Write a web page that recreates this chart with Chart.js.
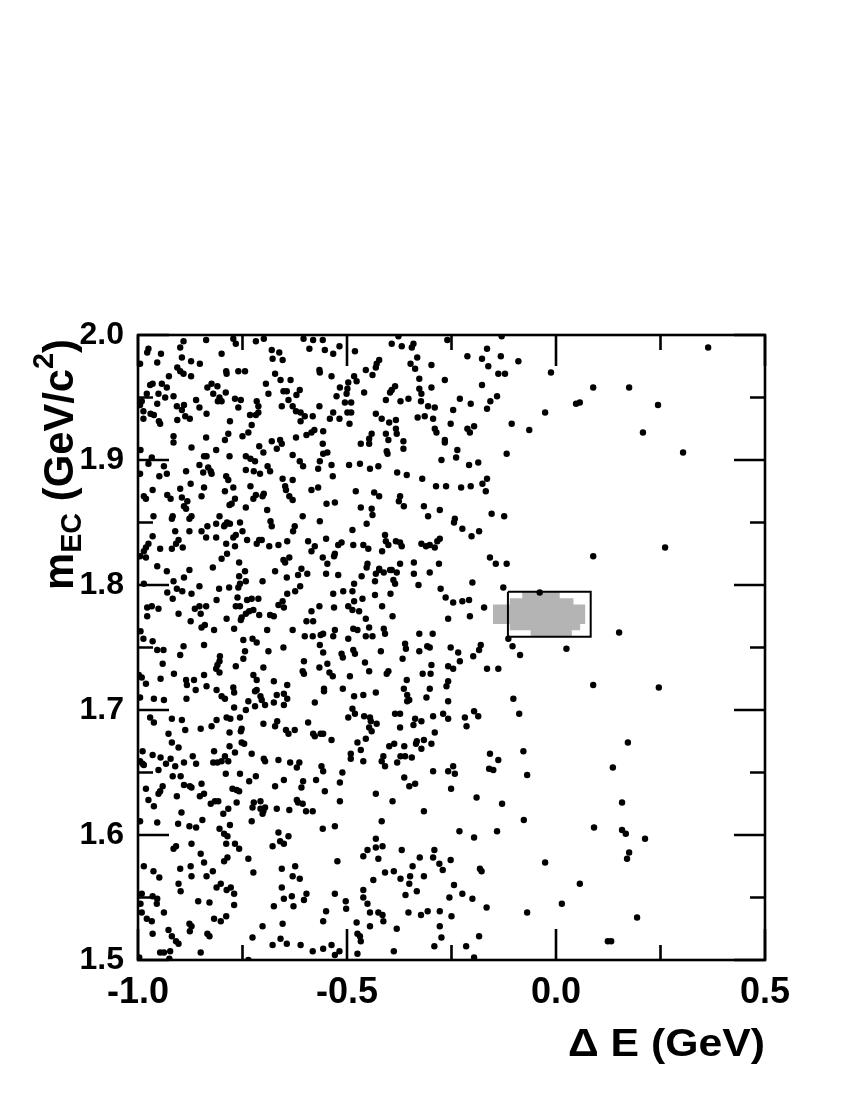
<!DOCTYPE html>
<html>
<head>
<meta charset="utf-8">
<title>m_EC vs Delta E</title>
<script src="https://cdn.jsdelivr.net/npm/chart.js@4.4.0/dist/chart.umd.min.js"></script>
<style>
    html, body { margin: 0; padding: 0; background: #ffffff; }
    #plot { display: block; }
</style>
</head>
<body>
<canvas id="plot" width="850" height="1100"></canvas>
<script>
// ---- data: Delta E (GeV) and m_EC (GeV/c^2) of each event ----
const deltaE = [
    // m_EC 1.91 - 2.00, Delta E < -0.55
    -0.891,-0.899,-0.837,-0.772,-0.766,-0.718,-0.699,-0.604,-0.590,-0.581,
    -0.558,-0.553,-0.975,-0.978,-0.945,-0.895,-0.873,-0.852,-0.800,-0.680,
    -0.662,-0.678,-0.654,-0.995,-0.954,-0.906,-0.899,-0.891,-0.873,-0.789,
    -0.788,-0.760,-0.744,-0.672,-0.566,-0.565,-0.926,-0.943,-0.965,-0.971,
    -0.694,-0.659,-0.635,-0.652,-0.644,-0.688,-0.613,-0.621,-0.931,-0.979,
    -0.951,-0.935,-0.915,-0.954,-0.991,-0.995,-0.824,-0.834,-0.810,-0.820,
    -0.790,-0.805,-0.800,-0.809,-0.768,-0.754,-0.716,-0.712,-0.861,-0.656,
    -0.640,-0.630,-0.566,-0.907,-0.890,-0.895,-0.853,-0.836,-0.760,-0.987,
    -0.970,-0.962,-0.987,-0.887,-0.876,-0.906,-0.950,-0.947,-0.780,-0.732,
    -0.718,-0.712,-0.622,-0.611,-0.601,-0.611,-0.582,-0.728,-0.736,-0.784,
    -0.792,-0.750,-0.915,-0.915,-0.872,-0.837,-0.813,-0.710,-0.680,-0.660,
    -0.656,-0.622,-0.585,-0.597,-0.578,-0.557,-0.558,-0.994,
    // m_EC 1.91 - 2.00, Delta E > -0.55
    -0.533,-0.518,-0.481,-0.377,-0.393,-0.369,-0.341,-0.345,-0.260,-0.130,
    -0.165,-0.212,-0.177,-0.132,-0.090,-0.162,-0.332,-0.348,-0.337,-0.298,
    -0.423,-0.429,-0.431,-0.455,-0.439,-0.483,-0.537,-0.477,-0.497,-0.517,
    -0.499,-0.501,-0.525,-0.505,-0.490,-0.499,-0.490,-0.533,-0.541,-0.518,
    -0.494,-0.138,-0.122,-0.177,-0.266,-0.327,-0.298,-0.327,-0.322,-0.323,
    -0.385,-0.393,-0.397,-0.459,-0.407,-0.372,-0.353,-0.306,-0.290,-0.230,
    -0.204,-0.141,-0.157,-0.165,-0.246,-0.431,-0.417,-0.399,-0.383,-0.331,
    -0.314,-0.294,-0.383,-0.381,-0.290,-0.286,-0.252,-0.212,-0.196,-0.206,
    -0.106,-0.064,-0.441,-0.447,-0.447,-0.407,-0.401,-0.467,-0.365,-0.365,
    -0.405,-0.266,-0.266,-0.236,-0.547,-0.118,
    // m_EC 1.81 - 1.91, Delta E < -0.55
    -0.700,-0.668,-0.967,-0.975,-0.938,-0.995,-0.949,-0.931,-0.885,-0.874,
    -0.842,-0.836,-0.853,-0.844,-0.832,-0.826,-0.824,-0.781,-0.789,-0.784,
    -0.742,-0.731,-0.720,-0.742,-0.723,-0.708,-0.690,-0.684,-0.630,-0.613,
    -0.605,-0.565,-0.569,-0.654,-0.630,-0.557,-0.899,-0.930,-0.922,-0.895,
    -0.882,-0.890,-0.885,-0.986,-0.981,-0.965,-0.842,-0.848,-0.792,-0.772,
    -0.768,-0.776,-0.781,-0.731,-0.718,-0.724,-0.702,-0.699,-0.648,-0.646,
    -0.638,-0.630,-0.585,-0.569,-0.742,-0.691,-0.963,-0.917,-0.919,-0.877,
    -0.872,-0.805,-0.834,-0.848,-0.837,-0.813,-0.792,-0.787,-0.780,-0.794,
    -0.756,-0.750,-0.683,-0.680,-0.606,-0.625,-0.629,-0.565,-0.965,-0.975,
    -0.981,-0.986,-0.911,-0.877,-0.903,-0.909,-0.919,-0.893,-0.947,-0.813,
    -0.789,-0.772,-0.766,-0.768,-0.739,-0.716,-0.710,-0.704,-0.643,-0.664,
    -0.686,-0.593,-0.577,-0.585,-0.995,-0.981,-0.800,-0.787,-0.758,-0.652,
    -0.648,-0.638,-0.558,-0.954,-0.931,-0.877,-0.821,-0.744,-0.672,-0.609,
    // m_EC 1.81 - 1.91, Delta E > -0.55
    -0.403,-0.239,-0.274,-0.208,-0.186,-0.537,-0.534,-0.495,-0.469,-0.445,
    -0.425,-0.380,-0.357,-0.320,-0.287,-0.263,-0.227,-0.204,-0.176,-0.165,
    -0.168,-0.479,-0.435,-0.423,-0.373,-0.376,-0.364,-0.316,-0.278,-0.306,
    -0.549,-0.529,-0.467,-0.441,-0.439,-0.453,-0.487,-0.242,-0.244,-0.224,
    -0.202,-0.184,-0.154,-0.124,-0.409,-0.407,-0.401,-0.383,-0.373,-0.369,
    -0.416,-0.461,-0.449,-0.485,-0.521,-0.513,-0.550,-0.529,-0.531,-0.547,
    -0.451,-0.453,-0.423,-0.397,-0.373,-0.340,-0.322,-0.311,-0.302,-0.290,
    -0.284,-0.278,-0.280,-0.158,-0.144,-0.118,
    // m_EC 1.72 - 1.81, Delta E < -0.55
    -0.758,-0.742,-0.644,-0.617,-0.595,-0.986,-0.915,-0.890,-0.853,-0.806,
    -0.782,-0.760,-0.756,-0.702,-0.930,-0.917,-0.907,-0.894,-0.872,-0.812,
    -0.762,-0.739,-0.728,-0.712,-0.643,-0.624,-0.612,-0.654,-0.664,-0.651,
    -0.978,-0.967,-0.951,-0.978,-0.864,-0.853,-0.837,-0.850,-0.903,-0.766,
    -0.756,-0.734,-0.724,-0.742,-0.752,-0.754,-0.710,-0.684,-0.675,-0.585,
    -0.566,-0.874,-0.848,-0.840,-0.818,-0.788,-0.770,-0.691,-0.630,-0.597,
    -0.581,-0.601,-0.582,-0.563,-0.557,-0.994,-0.987,-0.965,-0.954,-0.939,
    -0.891,-0.899,-0.842,-0.748,-0.726,-0.716,-0.744,-0.748,-0.804,-0.805,
    -0.810,-0.813,-0.805,-0.766,-0.688,-0.652,-0.565,-0.557,-0.603,-0.606,
    -0.603,-0.566,-0.941,-0.914,-0.998,-0.991,-0.981,-0.946,-0.885,-0.883,
    -0.866,-0.842,-0.836,-0.812,-0.724,-0.716,-0.700,-0.675,-0.643,-0.716,
    // m_EC 1.72 - 1.81, Delta E > -0.55
    -0.550,-0.521,-0.465,-0.431,-0.423,-0.412,-0.393,-0.381,-0.340,-0.302,
    -0.200,-0.126,-0.039,-0.433,-0.389,-0.385,-0.329,-0.483,-0.276,-0.533,
    -0.509,-0.487,-0.433,-0.396,-0.264,-0.246,-0.224,-0.208,-0.483,-0.463,
    -0.531,-0.497,-0.487,-0.471,-0.416,-0.172,-0.206,-0.258,-0.391,-0.455,
    -0.447,-0.485,-0.475,-0.529,-0.412,-0.409,-0.455,-0.439,-0.497,-0.533,
    -0.327,-0.295,-0.114,-0.361,-0.359,-0.308,-0.302,-0.252,-0.180,-0.184,
    -0.104,-0.086,0.025,-0.419,-0.485,-0.481,-0.513,-0.510,-0.327,-0.234,
    -0.198,-0.367,-0.230,-0.547,-0.457,-0.298,-0.258,-0.246,-0.165,-0.138,
    -0.447,-0.401,-0.405,-0.542,-0.534,-0.493,-0.319,-0.300,-0.357,-0.258,
    -0.262,-0.510,-0.555,-0.364,-0.302,0.089,
    // m_EC 1.61 - 1.72, Delta E < -0.55
    -0.995,-0.962,-0.938,-0.884,-0.862,-0.770,-0.772,-0.800,-0.792,-0.770,
    -0.736,-0.742,-0.720,-0.720,-0.707,-0.704,-0.696,-0.675,-0.668,-0.651,
    -0.643,-0.651,-0.555,-0.577,-0.971,-0.962,-0.919,-0.895,-0.887,-0.850,
    -0.824,-0.812,-0.788,-0.779,-0.756,-0.752,-0.754,-0.781,-0.700,-0.667,
    -0.672,-0.646,-0.640,-0.625,-0.593,-0.581,-0.577,-0.563,-0.557,-0.927,
    -0.919,-0.903,-0.752,-0.746,-0.781,-0.768,-0.989,-0.965,-0.946,-0.989,
    -0.986,-0.995,-0.933,-0.922,-0.911,-0.890,-0.869,-0.861,-0.818,-0.820,
    -0.810,-0.800,-0.792,-0.784,-0.728,-0.699,-0.696,-0.664,-0.636,-0.614,
    -0.620,-0.561,-0.557,-0.951,-0.917,-0.898,-0.790,-0.756,-0.718,-0.734,
    -0.651,-0.672,-0.605,-0.609,-0.574,-0.553,-0.981,-0.941,-0.947,-0.951,
    -0.890,-0.876,-0.872,-0.848,-0.907,-0.852,-0.842,-0.774,-0.764,-0.758,
    -0.975,-0.962,-0.826,-0.816,-0.808,-0.796,-0.784,-0.764,-0.723,-0.726,
    -0.707,-0.707,-0.700,-0.696,-0.702,-0.668,-0.638,-0.620,-0.617,-0.606,
    -0.598,-0.582,-0.896,-0.846,
    // m_EC 1.61 - 1.72, Delta E > -0.55
    -0.483,-0.461,-0.431,-0.356,-0.351,-0.356,-0.310,-0.258,-0.102,-0.088,
    -0.487,-0.481,-0.497,-0.459,-0.445,-0.443,-0.447,-0.441,-0.429,-0.385,
    -0.373,-0.373,-0.337,-0.341,-0.322,-0.294,-0.270,-0.258,-0.290,-0.218,
    -0.196,-0.186,-0.214,-0.537,-0.475,-0.455,-0.467,-0.461,-0.491,-0.491,
    -0.417,-0.413,-0.409,-0.399,-0.387,-0.363,-0.333,-0.335,-0.316,-0.322,
    -0.298,-0.372,-0.361,-0.345,-0.380,-0.511,-0.517,-0.517,-0.431,-0.391,
    -0.363,-0.337,-0.351,-0.294,-0.258,-0.246,-0.242,-0.251,-0.158,-0.138,
    -0.160,-0.150,-0.078,-0.069,-0.190,-0.129,-0.316,
    // m_EC 1.50 - 1.61, Delta E < -0.55
    -0.995,-0.954,-0.904,-0.877,-0.861,-0.805,-0.794,-0.786,-0.780,-0.728,
    -0.872,-0.909,-0.915,-0.789,-0.768,-0.758,-0.850,-0.842,-0.786,-0.794,
    -0.736,-0.664,-0.640,-0.660,-0.651,-0.678,-0.558,-0.986,-0.963,-0.949,
    -0.899,-0.874,-0.872,-0.836,-0.821,-0.724,-0.656,-0.624,-0.630,-0.613,
    -0.903,-0.898,-0.802,-0.812,-0.788,-0.778,-0.770,-0.656,-0.651,-0.632,
    -0.597,-0.603,-0.628,-0.991,-0.994,-0.965,-0.954,-0.955,-0.938,-0.991,
    -0.979,-0.967,-0.856,-0.829,-0.770,-0.675,-0.557,-0.818,-0.802,-0.789,
    -0.877,-0.872,-0.876,-0.654,-0.702,-0.965,-0.927,-0.919,-0.909,-0.903,
    -0.834,-0.829,-0.726,-0.659,-0.644,-0.678,-0.611,-0.582,-0.557,-0.947,
    -0.938,-0.923,-0.925,-0.850,-0.997,-0.736,
    // m_EC 1.50 - 1.61, Delta E > -0.55
    -0.529,-0.417,-0.077,-0.231,-0.141,-0.196,-0.431,-0.451,-0.431,-0.415,
    -0.461,-0.425,-0.523,-0.369,-0.326,-0.291,-0.294,-0.279,-0.271,-0.252,
    -0.182,-0.178,-0.409,-0.388,-0.343,-0.349,-0.316,-0.372,-0.351,-0.437,
    -0.244,-0.461,-0.461,-0.529,-0.333,-0.360,-0.224,-0.255,-0.200,-0.166,
    -0.069,-0.503,-0.502,-0.550,-0.451,-0.445,-0.425,-0.415,-0.413,-0.353,
    -0.323,-0.307,-0.278,-0.250,-0.278,-0.274,-0.477,-0.445,-0.381,-0.475,
    -0.469,-0.467,-0.184,-0.291,-0.215,-0.537,-0.529,-0.518,-0.475,-0.388,
    -0.196,
    // sparse events at Delta E > -0.05
    -0.012,0.048,0.057,0.089,0.175,0.244,0.364,0.208,0.304,-0.026,
    0.089,0.261,0.246,0.172,0.136,0.151,0.091,0.158,0.158,0.167,
    0.175,0.170,0.213,0.057,-0.026,0.014,0.194,0.132,0.124
];

const mEC = [
    1.995,1.990,1.996,1.997,1.993,1.995,1.997,1.997,1.989,1.996,
    1.996,1.988,1.989,1.986,1.985,1.982,1.979,1.977,1.985,1.988,
    1.986,1.981,1.980,1.977,1.978,1.974,1.971,1.969,1.967,1.971,
    1.969,1.971,1.971,1.969,1.972,1.970,1.967,1.961,1.961,1.960,
    1.961,1.964,1.964,1.955,1.955,1.953,1.956,1.952,1.958,1.953,
    1.953,1.950,1.951,1.945,1.947,1.944,1.961,1.958,1.959,1.953,
    1.954,1.950,1.947,1.947,1.949,1.948,1.947,1.943,1.948,1.943,
    1.948,1.943,1.943,1.943,1.944,1.940,1.942,1.937,1.942,1.939,
    1.937,1.936,1.933,1.935,1.933,1.932,1.931,1.929,1.931,1.936,
    1.936,1.938,1.939,1.938,1.935,1.931,1.935,1.928,1.922,1.921,
    1.916,1.919,1.919,1.914,1.910,1.918,1.908,1.911,1.915,1.916,
    1.913,1.918,1.922,1.920,1.924,1.923,1.913,1.908,

    1.985,1.991,1.987,1.999,1.993,1.991,1.993,1.990,1.996,1.999,
    1.989,1.983,1.981,1.983,1.979,1.975,1.982,1.977,1.973,1.976,
    1.980,1.977,1.974,1.972,1.968,1.967,1.967,1.963,1.962,1.958,
    1.957,1.953,1.951,1.946,1.946,1.938,1.938,1.938,1.933,1.933,
    1.929,1.969,1.969,1.960,1.964,1.965,1.958,1.957,1.953,1.947,
    1.959,1.956,1.954,1.954,1.948,1.947,1.949,1.943,1.942,1.949,
    1.945,1.951,1.947,1.941,1.940,1.937,1.933,1.930,1.932,1.934,
    1.935,1.933,1.925,1.921,1.925,1.922,1.929,1.925,1.927,1.922,
    1.929,1.924,1.921,1.917,1.913,1.921,1.916,1.913,1.915,1.909,
    1.907,1.916,1.914,1.908,1.906,1.905,

    1.906,1.909,1.902,1.897,1.895,1.889,1.887,1.889,1.891,1.881,
    1.903,1.903,1.896,1.890,1.894,1.891,1.889,1.903,1.887,1.884,
    1.903,1.901,1.899,1.892,1.891,1.889,1.895,1.891,1.904,1.899,
    1.895,1.899,1.893,1.885,1.884,1.905,1.877,1.872,1.869,1.870,
    1.867,1.863,1.861,1.871,1.869,1.876,1.878,1.871,1.875,1.878,
    1.869,1.865,1.864,1.879,1.872,1.869,1.871,1.873,1.879,1.876,
    1.871,1.868,1.876,1.878,1.862,1.860,1.855,1.855,1.853,1.853,
    1.855,1.855,1.847,1.843,1.838,1.849,1.848,1.850,1.849,1.847,
    1.850,1.843,1.851,1.847,1.855,1.847,1.843,1.851,1.839,1.833,
    1.830,1.827,1.843,1.843,1.836,1.833,1.829,1.830,1.829,1.838,
    1.833,1.838,1.840,1.831,1.836,1.833,1.836,1.836,1.835,1.832,
    1.831,1.835,1.831,1.827,1.823,1.822,1.821,1.825,1.818,1.820,
    1.818,1.822,1.822,1.815,1.811,1.812,1.814,1.811,1.811,1.813,

    1.905,1.902,1.900,1.896,1.898,1.896,1.887,1.896,1.897,1.893,
    1.895,1.890,1.888,1.885,1.879,1.879,1.878,1.879,1.881,1.885,
    1.875,1.875,1.874,1.871,1.871,1.867,1.863,1.863,1.860,1.855,
    1.865,1.866,1.862,1.861,1.856,1.849,1.844,1.853,1.850,1.845,
    1.839,1.843,1.857,1.855,1.840,1.835,1.832,1.835,1.834,1.831,
    1.827,1.832,1.829,1.832,1.832,1.834,1.837,1.825,1.823,1.817,
    1.817,1.814,1.813,1.812,1.817,1.818,1.833,1.831,1.832,1.830,
    1.835,1.837,1.817,1.822,1.817,1.817,

    1.807,1.803,1.806,1.808,1.809,1.801,1.803,1.806,1.799,1.797,
    1.798,1.798,1.801,1.803,1.794,1.789,1.797,1.795,1.793,1.788,
    1.790,1.788,1.789,1.789,1.793,1.795,1.799,1.787,1.784,1.782,
    1.782,1.783,1.781,1.775,1.781,1.783,1.783,1.777,1.777,1.783,
    1.783,1.779,1.780,1.777,1.774,1.772,1.776,1.776,1.775,1.779,
    1.783,1.771,1.766,1.768,1.764,1.773,1.765,1.764,1.764,1.771,
    1.771,1.759,1.759,1.760,1.761,1.763,1.757,1.755,1.748,1.748,
    1.751,1.744,1.752,1.756,1.757,1.754,1.747,1.741,1.743,1.739,
    1.736,1.733,1.730,1.735,1.747,1.750,1.752,1.746,1.739,1.731,
    1.729,1.734,1.737,1.729,1.728,1.726,1.721,1.725,1.724,1.720,
    1.724,1.728,1.719,1.716,1.728,1.724,1.734,1.723,1.720,1.716,

    1.809,1.808,1.807,1.809,1.812,1.810,1.812,1.810,1.809,1.810,
    1.802,1.798,1.794,1.803,1.804,1.801,1.800,1.801,1.797,1.793,
    1.795,1.795,1.792,1.793,1.790,1.786,1.787,1.788,1.787,1.789,
    1.782,1.783,1.780,1.779,1.783,1.782,1.775,1.773,1.775,1.773,
    1.766,1.765,1.764,1.764,1.765,1.761,1.759,1.759,1.757,1.759,
    1.761,1.761,1.757,1.753,1.749,1.751,1.750,1.750,1.752,1.748,
    1.751,1.744,1.749,1.747,1.748,1.745,1.745,1.742,1.747,1.746,
    1.743,1.741,1.739,1.737,1.738,1.736,1.735,1.733,1.733,1.733,
    1.731,1.731,1.729,1.730,1.727,1.727,1.729,1.729,1.724,1.723,
    1.719,1.717,1.717,1.717,1.717,1.720,

    1.710,1.709,1.708,1.709,1.716,1.714,1.718,1.711,1.709,1.702,
    1.707,1.700,1.715,1.703,1.711,1.708,1.704,1.706,1.712,1.713,
    1.709,1.704,1.715,1.706,1.694,1.690,1.693,1.692,1.684,1.685,
    1.687,1.692,1.694,1.693,1.694,1.685,1.683,1.682,1.689,1.691,
    1.687,1.684,1.681,1.684,1.690,1.681,1.679,1.681,1.681,1.681,
    1.674,1.670,1.674,1.673,1.671,1.666,1.667,1.664,1.662,1.657,
    1.656,1.659,1.657,1.661,1.655,1.658,1.663,1.657,1.667,1.658,
    1.658,1.659,1.663,1.659,1.665,1.661,1.659,1.660,1.658,1.658,
    1.654,1.655,1.651,1.652,1.647,1.647,1.649,1.649,1.647,1.643,
    1.644,1.639,1.643,1.638,1.644,1.635,1.637,1.639,1.635,1.633,
    1.640,1.639,1.638,1.641,1.631,1.631,1.633,1.637,1.636,1.635,
    1.628,1.623,1.625,1.627,1.627,1.617,1.621,1.626,1.626,1.622,
    1.627,1.621,1.619,1.622,1.617,1.621,1.620,1.628,1.626,1.625,
    1.619,1.619,1.618,1.612,

    1.711,1.712,1.714,1.712,1.708,1.707,1.710,1.707,1.709,1.697,
    1.701,1.697,1.694,1.695,1.694,1.691,1.686,1.683,1.689,1.697,
    1.697,1.686,1.693,1.688,1.691,1.695,1.697,1.693,1.682,1.694,
    1.699,1.695,1.687,1.676,1.674,1.677,1.668,1.659,1.665,1.661,
    1.659,1.663,1.655,1.671,1.673,1.671,1.675,1.673,1.676,1.669,
    1.673,1.663,1.663,1.662,1.658,1.650,1.642,1.627,1.633,1.627,
    1.646,1.641,1.639,1.651,1.651,1.655,1.649,1.637,1.665,1.660,
    1.653,1.652,1.667,1.648,1.630,1.625,1.619,

    1.611,1.610,1.609,1.607,1.606,1.605,1.601,1.599,1.608,1.611,
    1.593,1.591,1.589,1.593,1.593,1.589,1.585,1.578,1.582,1.579,
    1.581,1.602,1.599,1.595,1.593,1.591,1.605,1.575,1.571,1.566,
    1.573,1.575,1.567,1.567,1.571,1.570,1.573,1.575,1.567,1.565,
    1.561,1.555,1.561,1.558,1.556,1.558,1.553,1.558,1.549,1.551,
    1.553,1.548,1.543,1.553,1.545,1.551,1.549,1.545,1.538,1.538,
    1.533,1.531,1.547,1.546,1.544,1.543,1.531,1.533,1.531,1.535,
    1.529,1.527,1.523,1.529,1.527,1.521,1.524,1.519,1.515,1.513,
    1.521,1.519,1.518,1.517,1.513,1.512,1.512,1.507,1.509,1.506,
    1.506,1.507,1.501,1.506,1.502,1.500,

    1.607,1.611,1.612,1.603,1.603,1.598,1.597,1.588,1.590,1.591,
    1.583,1.581,1.579,1.588,1.582,1.588,1.582,1.577,1.572,1.580,
    1.573,1.571,1.570,1.571,1.575,1.567,1.567,1.565,1.561,1.564,
    1.560,1.556,1.550,1.553,1.555,1.552,1.553,1.550,1.549,1.542,
    1.538,1.547,1.541,1.539,1.545,1.538,1.538,1.536,1.531,1.538,
    1.536,1.539,1.539,1.535,1.527,1.518,1.530,1.527,1.525,1.521,
    1.519,1.515,1.519,1.511,1.511,1.512,1.504,1.507,1.505,1.507,
    1.502,

    1.970,1.945,1.946,1.958,1.958,1.944,1.990,1.922,1.906,1.938,
    1.823,1.830,1.718,1.674,1.654,1.762,1.606,1.626,1.604,1.601,
    1.586,1.581,1.597,1.561,1.578,1.545,1.534,1.515,1.515
];

// grey signal distribution: one row per m_EC bin, filled from lo to hi in Delta E
const signalRowM  = [1.7916, 1.7866, 1.7816, 1.7766, 1.7716, 1.7666, 1.7616];
const signalRowLo = [-0.080, -0.110, -0.150, -0.150, -0.150, -0.110, -0.060];
const signalRowHi = [0.008, 0.041, 0.069, 0.069, 0.069, 0.057, 0.037];

// signal box corners
const boxDeltaE = [-0.115, 0.083, 0.083, -0.115, -0.115];
const boxM      = [1.7946, 1.7946, 1.7586, 1.7586, 1.7946];

// axes
const xTicks = [-1.0, -0.5, 0.0, 0.5];
const xTickLabels = ['-1.0', '-0.5', '0.0', '0.5'];
const xMinorTicks = [-0.75, -0.25, 0.25];
const yTicks = [1.5, 1.6, 1.7, 1.8, 1.9, 2.0];
const yTickLabels = ['1.5', '1.6', '1.7', '1.8', '1.9', '2.0'];
const yMinorTicks = [1.55, 1.65, 1.75, 1.85, 1.95];

if (deltaE.length !== mEC.length) console.error('deltaE/mEC length mismatch', deltaE.length, mEC.length);

const FONT = '"Liberation Sans", Arial, Helvetica, sans-serif';

// ROOT style frame: box around the pad with inward ticks on all four sides, plus axis titles
const rootFrame = {
    id: 'rootFrame',
    afterDatasetsDraw(chart) {
        const { ctx, chartArea: a, scales: { x, y } } = chart;
        ctx.save();
        ctx.strokeStyle = '#000';
        ctx.lineWidth = 2.6;
        ctx.strokeRect(a.left, a.top, a.right - a.left, a.bottom - a.top);

        ctx.beginPath();
        const xTick = (v, len) => {
            const px = x.getPixelForValue(v);
            ctx.moveTo(px, a.bottom); ctx.lineTo(px, a.bottom - len);
            ctx.moveTo(px, a.top); ctx.lineTo(px, a.top + len);
        };
        const yTick = (v, len) => {
            const py = y.getPixelForValue(v);
            ctx.moveTo(a.left, py); ctx.lineTo(a.left + len, py);
            ctx.moveTo(a.right, py); ctx.lineTo(a.right - len, py);
        };
        xTicks.forEach(v => xTick(v, 31));
        xMinorTicks.forEach(v => xTick(v, 15));
        yTicks.forEach(v => yTick(v, 31));
        yMinorTicks.forEach(v => yTick(v, 15));
        ctx.stroke();

        ctx.fillStyle = '#000';
        ctx.textBaseline = 'alphabetic';

        // x title, right aligned with the frame, stretched to the reference width
        ctx.save();
        ctx.font = `bold 39px ${FONT}`;
        const xTitle = '\u0394 E (GeV)';
        const xw = ctx.measureText(xTitle).width;
        ctx.translate(a.right, 1056);
        ctx.scale(197 / xw, 1);
        ctx.textAlign = 'right';
        ctx.fillText(xTitle, 0, 0);
        ctx.restore();

        // y title with sub/superscripts, rotated
        const pieces = [
            { t: 'm', size: 42, dy: 0 },
            { t: 'EC', size: 29, dy: 8 },
            { t: ' (GeV/c', size: 42, dy: 0 },
            { t: '2', size: 29, dy: -20 },
            { t: ')', size: 42, dy: 0 }
        ];
        let total = 0;
        pieces.forEach(p => { ctx.font = `bold ${p.size}px ${FONT}`; p.w = ctx.measureText(p.t).width; total += p.w; });
        ctx.save();
        ctx.translate(73, 590);
        ctx.rotate(-Math.PI / 2);
        ctx.scale(251 / total, 1);
        ctx.textAlign = 'left';
        let cx = 0;
        pieces.forEach(p => {
            ctx.font = `bold ${p.size}px ${FONT}`;
            ctx.fillText(p.t, cx, p.dy);
            cx += p.w;
        });
        ctx.restore();
        ctx.restore();
    }
};

const events = deltaE.map((v, i) => ({ x: v, y: mEC[i] }));

new Chart(document.getElementById('plot'), {
    type: 'scatter',
    data: {
        datasets: [
            {
                type: 'bar',
                indexAxis: 'y',
                data: signalRowM.map((m, i) => ({ x: [signalRowLo[i], signalRowHi[i]], y: m })),
                backgroundColor: '#b4b4b4',
                borderWidth: 0,
                barPercentage: 1,
                categoryPercentage: 1,
                order: 3
            },
            {
                data: boxDeltaE.map((v, i) => ({ x: v, y: boxM[i] })),
                showLine: true,
                borderColor: '#000',
                borderWidth: 2,
                pointRadius: 0,
                fill: false,
                order: 2
            },
            {
                data: events,
                backgroundColor: '#000',
                borderWidth: 0,
                pointRadius: 3.2,
                order: 1
            }
        ]
    },
    options: {
        responsive: false,
        animation: false,
        devicePixelRatio: 1,
        layout: { padding: { left: 0, top: 335, right: 85, bottom: 0 } },
        plugins: { legend: { display: false }, tooltip: { enabled: false } },
        scales: {
            x: {
                type: 'linear', min: -1.0, max: 0.5, offset: false,
                grid: { display: false, drawTicks: false, offset: false },
                border: { display: false },
                afterBuildTicks: s => { s.ticks = xTicks.map(v => ({ value: v })); },
                afterFit: s => { s.height = 140; },
                ticks: {
                    autoSkip: false, maxRotation: 0, padding: 11, color: '#000',
                    font: { family: FONT, size: 36, weight: 'bold' },
                    callback: (v, i) => xTickLabels[i]
                }
            },
            y: {
                type: 'linear', min: 1.5, max: 2.0, offset: false,
                grid: { display: false, drawTicks: false, offset: false },
                border: { display: false },
                afterBuildTicks: s => { s.ticks = yTicks.map(v => ({ value: v })); },
                afterFit: s => { s.width = 138; },
                ticks: {
                    autoSkip: false, padding: 14, color: '#000',
                    font: { family: FONT, size: 32, weight: 'bold' },
                    callback: (v, i) => yTickLabels[i]
                }
            }
        }
    },
    plugins: [rootFrame]
});
</script>
</body>
</html>
